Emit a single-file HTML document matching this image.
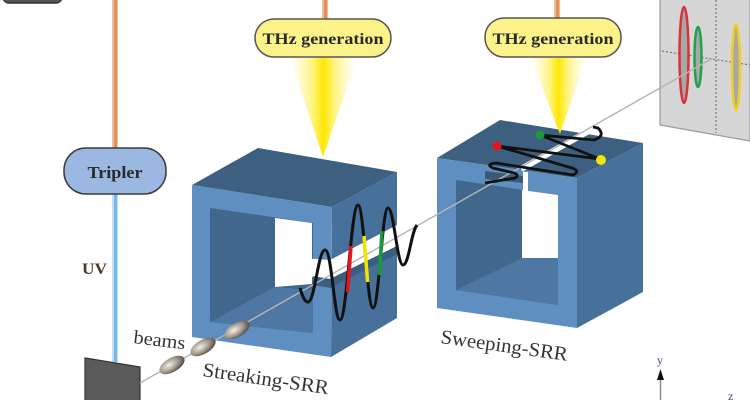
<!DOCTYPE html>
<html><head><meta charset="utf-8"><style>
html,body{margin:0;padding:0;background:#fff;}
svg{display:block;}
text{font-family:"Liberation Serif",serif;}
</style></head><body>
<svg width="750" height="400" viewBox="0 0 750 400" xmlns="http://www.w3.org/2000/svg">
<defs>
<linearGradient id="cone" x1="0" y1="0" x2="1" y2="0">
<stop offset="0" stop-color="#fff8a0" stop-opacity="0"/>
<stop offset="0.3" stop-color="#fff27a" stop-opacity="0.8"/>
<stop offset="0.5" stop-color="#ffe800"/>
<stop offset="0.7" stop-color="#fff27a" stop-opacity="0.8"/>
<stop offset="1" stop-color="#fff8a0" stop-opacity="0"/>
</linearGradient>
<radialGradient id="beam" cx="0.4" cy="0.4" r="0.7">
<stop offset="0" stop-color="#f4f0ea"/>
<stop offset="0.5" stop-color="#a89e92"/>
<stop offset="1" stop-color="#3e3630"/>
</radialGradient>
</defs>

<!-- top-left dark box -->
<rect x="3" y="-20" width="59" height="23" rx="6" fill="#555" stroke="#333" stroke-width="1.5"/>

<!-- orange lines -->
<line x1="115" y1="0" x2="115" y2="148" stroke="#efbb98" stroke-width="6"/>
<line x1="115.5" y1="0" x2="115.5" y2="148" stroke="#e0905a" stroke-width="3"/>
<line x1="325" y1="0" x2="325" y2="19" stroke="#efbb98" stroke-width="6"/>
<line x1="325.5" y1="0" x2="325.5" y2="19" stroke="#e0905a" stroke-width="3"/>
<line x1="557" y1="0" x2="557" y2="18" stroke="#efbb98" stroke-width="6"/>
<line x1="557.5" y1="0" x2="557.5" y2="18" stroke="#e0905a" stroke-width="3"/>

<!-- UV line -->
<line x1="115" y1="194" x2="115" y2="362" stroke="#c0e0f7" stroke-width="6"/>
<line x1="115.5" y1="194" x2="115.5" y2="362" stroke="#7ab5e6" stroke-width="3"/>

<!-- Tripler -->
<rect x="64" y="148" width="102" height="46" rx="22" fill="#9ab8e2" stroke="#3c3c3c" stroke-width="1.5"/>
<text x="115" y="178" text-anchor="middle" font-size="17" font-weight="bold" fill="#2a2a2a" textLength="55" lengthAdjust="spacingAndGlyphs">Tripler</text>

<!-- UV label -->
<text x="82" y="274" font-size="16" font-weight="bold" fill="#4b3828" textLength="25" lengthAdjust="spacingAndGlyphs">UV</text>

<!-- Screen -->
<polygon points="660,-5 750,-5 750,141 660,125" fill="#d6d6d6" stroke="#999" stroke-width="1.2"/>
<line x1="716" y1="0" x2="716" y2="133" stroke="#777" stroke-width="1.2" stroke-dasharray="2,2"/>
<line x1="662" y1="51" x2="750" y2="65" stroke="#777" stroke-width="1.2" stroke-dasharray="2,2"/>
<ellipse cx="684" cy="55" rx="4.5" ry="48" fill="#a8a8a8" stroke="#d8333a" stroke-width="2.5"/>
<ellipse cx="698" cy="57" rx="3.5" ry="30" fill="#a8a8a8" stroke="#22a050" stroke-width="2.5"/>
<ellipse cx="736" cy="67" rx="4" ry="43" fill="#a8a8a8" stroke="#f0d020" stroke-width="2.5"/>

<!-- THz generation boxes -->
<rect x="255" y="19" width="136" height="38" rx="19" fill="#fbf38a" stroke="#555" stroke-width="1.5"/>
<text x="323" y="44" text-anchor="middle" font-size="16" font-weight="bold" fill="#2a2a2a" textLength="121" lengthAdjust="spacingAndGlyphs">THz generation</text>
<rect x="485" y="18" width="136" height="39" rx="19" fill="#fbf38a" stroke="#555" stroke-width="1.5"/>
<text x="553" y="44" text-anchor="middle" font-size="16" font-weight="bold" fill="#2a2a2a" textLength="121" lengthAdjust="spacingAndGlyphs">THz generation</text>

<!-- Cube 1 (Streaking) -->
<polygon points="192,185 258,148 397,172 332,207" fill="#3d6080"/>
<polygon points="332,207 397,172 397,318 331,357" fill="#47709a"/>
<polygon points="192,185 332,207 331,357 192,337" fill="#5f8ec0"/>
<polygon points="210,208 313,223 313,333 210,322" fill="#41678c"/>
<polygon points="210,322 275,287 313,290 313,333" fill="#4e78a3"/>
<polygon points="275,218 312,223 312,284 275,287" fill="#fff"/>
<polygon points="300,258 330,260 397,225 397,246 330,279 300,276" fill="#fff"/>
<polygon points="313,276 330,279 397,246 397,254 330,288 313,285" fill="#3b5e80"/>

<!-- Cube 2 (Sweeping) -->
<polygon points="437,158 500,120 643,143 577,178" fill="#3d6080"/>
<polygon points="577,178 643,143 643,292 577,328" fill="#47709a"/>
<polygon points="437,158 577,178 577,328 437,308" fill="#5f8ec0"/>
<polygon points="456,180 558,195 558,305 456,290" fill="#41678c"/>
<polygon points="456,290 522,258 558,258 558,305" fill="#4e78a3"/>
<polygon points="522,190 558,195 558,258 522,258" fill="#fff"/>
<rect x="523" y="172" width="5" height="20" fill="#fff"/>
<polygon points="485,171 523,176 523,183 485,179" fill="#3a5a78"/>

<!-- cones -->
<polygon points="290,58 357,58 323,157" fill="url(#cone)"/>
<polygon points="531,58 586,58 560,134" fill="url(#cone)"/>

<!-- white band on cube 2 top -->
<line x1="521" y1="169" x2="594" y2="128" stroke="#fff" stroke-width="6"/>

<!-- mirror -->
<polygon points="85,358 140,367 140,402 85,402" fill="#5a5a5a" stroke="#333" stroke-width="1.2"/>

<!-- beam line -->
<line x1="140" y1="383" x2="713" y2="58" stroke="#b4b4b4" stroke-width="1.4"/>

<!-- beam ellipses -->
<ellipse cx="172" cy="365" rx="14" ry="7" transform="rotate(-30 172 365)" fill="url(#beam)"/>
<ellipse cx="203" cy="347" rx="14" ry="7" transform="rotate(-30 203 347)" fill="url(#beam)"/>
<ellipse cx="237" cy="330" rx="14" ry="7" transform="rotate(-30 237 330)" fill="url(#beam)"/>

<!-- streaking wave -->
<path d="M300,288 C303,298 305,302 308,302 C315,302 318,250 325,250 C332,250 334,320 340,320 C347,320 351,205 358,205 C364,205 367,308 373,308 C379,308 382,208 388,208 C394,208 397,265 403,265 C409,265 411,232 417,225" fill="none" stroke="#111" stroke-width="3"/>
<line x1="347.6" y1="292" x2="351" y2="246" stroke="#e8141c" stroke-width="3.5"/>
<line x1="364" y1="236" x2="367.6" y2="282" stroke="#f2e600" stroke-width="3.5"/>
<line x1="382" y1="231" x2="379.4" y2="275" stroke="#1a9a3a" stroke-width="3.5"/>

<!-- sweeping coil -->
<path d="M485,183 L515,178 Q521,174 510,172 L493,168 Q485,164 496,163 L573,175 Q581,171 572,168 L497,146 L600,159 L540,135 L594,140 Q606,136 598,128 L593,127" fill="none" stroke="#111" stroke-width="2.8" stroke-linejoin="round"/>
<circle cx="497" cy="146" r="4.5" fill="#e8141c"/>
<circle cx="540" cy="135" r="4.5" fill="#1a9a3a"/>
<circle cx="601" cy="160" r="5" fill="#f2e600"/>

<!-- labels -->
<text x="133" y="343" font-size="19" fill="#333" textLength="52" lengthAdjust="spacingAndGlyphs" transform="rotate(7 133 343)">beams</text>
<text x="202" y="376" font-size="20" fill="#333" textLength="127" lengthAdjust="spacingAndGlyphs" transform="rotate(8.3 202 376)">Streaking-SRR</text>
<text x="440" y="343" font-size="20" fill="#333" textLength="128" lengthAdjust="spacingAndGlyphs" transform="rotate(8 440 343)">Sweeping-SRR</text>

<!-- axes -->
<line x1="660.5" y1="378" x2="660.5" y2="400" stroke="#888" stroke-width="1.5"/>
<polygon points="657,380 664,380 660.5,369" fill="#111"/>
<text x="657" y="364" font-size="12" fill="#3a4a70">y</text>
<text x="728" y="400" font-size="12" fill="#3a4a70">z</text>
</svg>
</body></html>
